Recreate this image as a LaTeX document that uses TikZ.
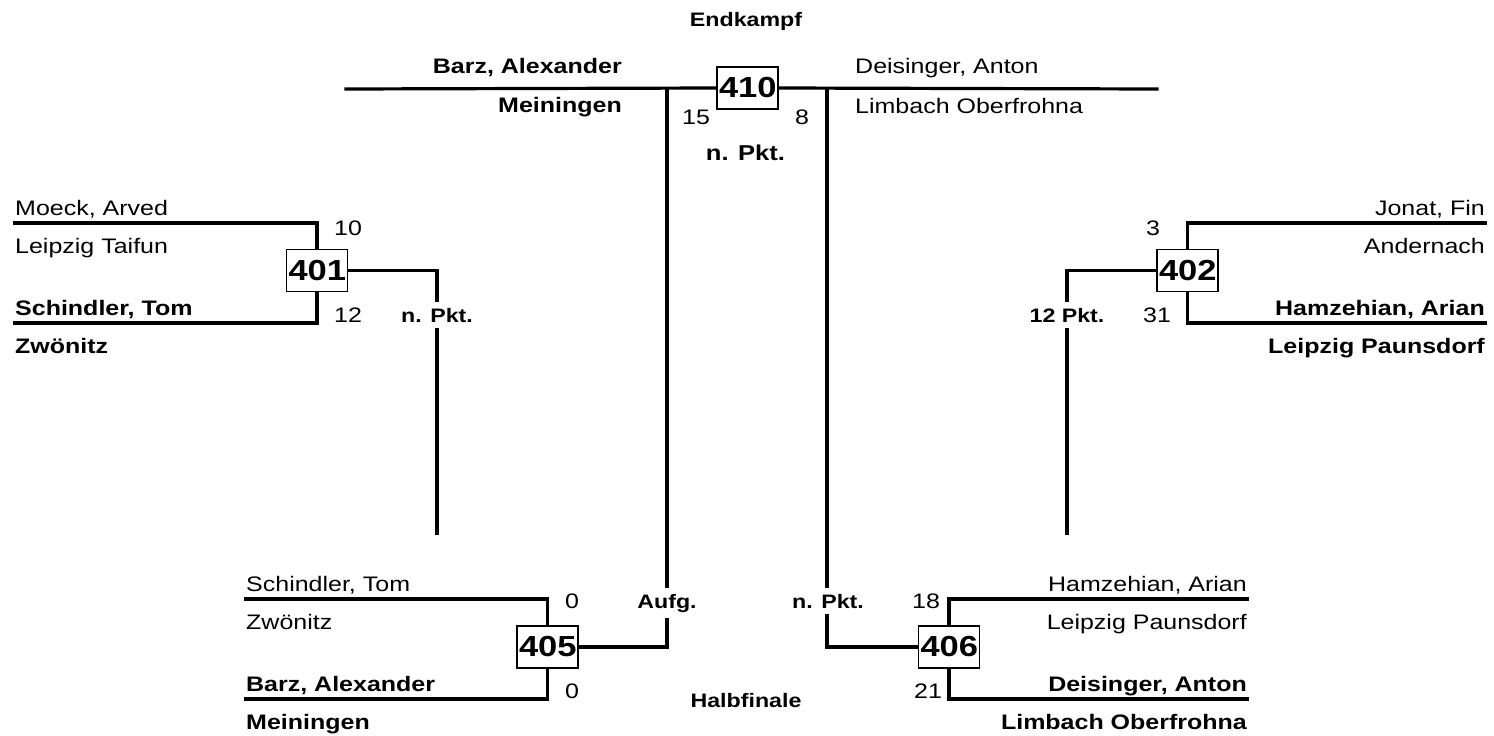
\documentclass[tikz,border=0pt]{standalone}
\usepackage{fontspec}
\setmainfont{Liberation Sans}
\newcommand\W[1]{\scalebox{1.19}[1]{#1}}
\tikzset{
  ln/.style={line width=3.2pt, line cap=rect},
  nm/.style={inner sep=0pt, font=\fontsize{21}{25}\selectfont},
  bnm/.style={inner sep=0pt, font=\bfseries\fontsize{21}{25}\selectfont},
  sc/.style={inner sep=0pt, anchor=base, font=\fontsize{21}{25}\selectfont},
  rnd/.style={inner sep=0pt, anchor=base, font=\bfseries\fontsize{19.5}{23}\selectfont},
  res/.style={anchor=base, fill=white, inner xsep=3pt, inner ysep=6pt, font=\bfseries\fontsize{19.5}{23}\selectfont},
  mbox/.style={draw, line width=1.4pt, fill=white, inner xsep=2pt, inner ysep=0pt,
    minimum height=42pt, text width=57pt, align=right, font=\bfseries\fontsize{29}{32}\selectfont}
}
\begin{document}
\begin{tikzpicture}[x=1pt,y=-1pt]
\useasboundingbox (0,0) rectangle (1494,736);
% ---------- final ----------
\node[mbox] (m410) at (747.5,88) {\W{410}};
\coordinate (fL) at (346,89);
\coordinate (fR) at (1157,89);
\coordinate (vL) at (667,89);
\coordinate (vR) at (827,89);
\draw[ln] (fL) -- (m410.west);
\draw[ln] (m410.east) -- (fR);
\node[rnd] (endk) at (746,27) {\W{Endkampf}};
\node[bnm, anchor=base east] (fn1) at (622,73) {\W{Barz, Alexander}};
\node[bnm, anchor=base east] (fo1) at (622,112) {\W{Meiningen}};
\node[nm, anchor=base west] (fn2) at (855,73) {\W{Deisinger, Anton}};
\node[nm, anchor=base west] (fo2) at (855,113) {\W{Limbach Oberfrohna}};
\node[sc] (fs1) at (696,124) {\W{15}};
\node[sc] (fs2) at (802,124) {\W{8}};
\node[rnd, font=\bfseries\fontsize{21.5}{25}\selectfont] (fres) at (745.5,160) {\W{n. Pkt.}};
% ---------- semifinals ----------
\node[mbox] (m405) at (547.5,647) {\W{405}};
\node[mbox] (m406) at (949,647) {\W{406}};
\draw[ln] (vL) |- (m405.east);
\draw[ln] (vR) |- (m406.west);
% 405
\coordinate (a405) at (246,599);
\coordinate (b405) at (246,699);
\draw[ln] (a405) -| (m405.north);
\draw[ln] (b405) -| (m405.south);
\node[nm, anchor=base west] (n405a) at (246,591) {\W{Schindler, Tom}};
\node[nm, anchor=base west] (o405a) at (246,629) {\W{Zwönitz}};
\node[bnm, anchor=base west] (n405b) at (246,691) {\W{Barz, Alexander}};
\node[bnm, anchor=base west] (o405b) at (246,729) {\W{Meiningen}};
\node[sc] (s405a) at (572,608) {\W{0}};
\node[sc] (s405b) at (572,698) {\W{0}};
\node[res] (r405) at (667,608) {\W{Aufg.}};
% 406
\coordinate (a406) at (1247,599);
\coordinate (b406) at (1247,699);
\draw[ln] (a406) -| (m406.north);
\draw[ln] (b406) -| (m406.south);
\node[nm, anchor=base east] (n406a) at (1247,591) {\W{Hamzehian, Arian}};
\node[nm, anchor=base east] (o406a) at (1247,629) {\W{Leipzig Paunsdorf}};
\node[bnm, anchor=base east] (n406b) at (1247,691) {\W{Deisinger, Anton}};
\node[bnm, anchor=base east] (o406b) at (1247,729) {\W{Limbach Oberfrohna}};
\node[sc] (s406a) at (926,608) {\W{18}};
\node[sc] (s406b) at (928,698) {\W{21}};
\node[res] (r406) at (828,608) {\W{n. Pkt.}};
\node[rnd] (halb) at (746,707) {\W{Halbfinale}};
% ---------- 401 ----------
\node[mbox] (m401) at (317,270.5) {\W{401}};
\coordinate (a401) at (15,223);
\coordinate (b401) at (15,323);
\coordinate (c401) at (437,533);
\draw[ln] (a401) -| (m401.north);
\draw[ln] (b401) -| (m401.south);
\draw[ln] (m401.east) -| (c401);
\node[nm, anchor=base west] (n401a) at (15,215) {\W{Moeck, Arved}};
\node[nm, anchor=base west] (o401a) at (15,253) {\W{Leipzig Taifun}};
\node[bnm, anchor=base west] (n401b) at (15,315) {\W{Schindler, Tom}};
\node[bnm, anchor=base west] (o401b) at (15,353) {\W{Zwönitz}};
\node[sc] (s401a) at (348,235) {\W{10}};
\node[sc] (s401b) at (348,322) {\W{12}};
\node[res] (r401) at (437,322) {\W{n. Pkt.}};
% ---------- 402 ----------
\node[mbox] (m402) at (1187.5,270.5) {\W{402}};
\coordinate (a402) at (1485,223);
\coordinate (b402) at (1485,323);
\coordinate (c402) at (1067,533);
\draw[ln] (a402) -| (m402.north);
\draw[ln] (b402) -| (m402.south);
\draw[ln] (m402.west) -| (c402);
\node[nm, anchor=base east] (n402a) at (1485,215) {\W{Jonat, Fin}};
\node[nm, anchor=base east] (o402a) at (1485,253) {\W{Andernach}};
\node[bnm, anchor=base east] (n402b) at (1485,315) {\W{Hamzehian, Arian}};
\node[bnm, anchor=base east] (o402b) at (1485,353) {\W{Leipzig Paunsdorf}};
\node[sc] (s402a) at (1153,235) {\W{3}};
\node[sc] (s402b) at (1157,322) {\W{31}};
\node[res] (r402) at (1067,322) {\W{12 Pkt.}};
\end{tikzpicture}
\end{document}
